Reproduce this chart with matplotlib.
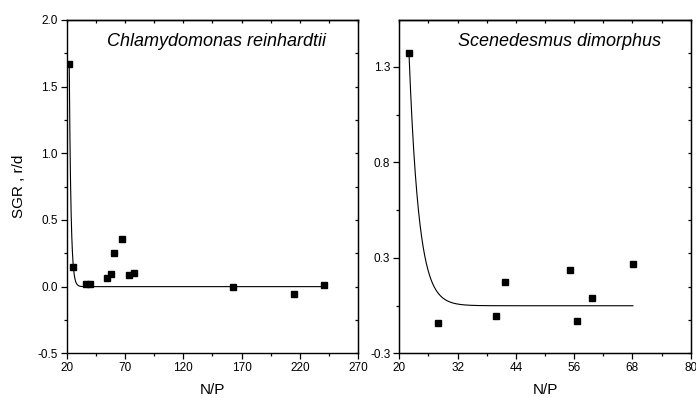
"""Specific growth rate vs N/P ratio for two microalgae, with decay fits."""

# %% Imports
import matplotlib

matplotlib.use("Agg")
import matplotlib.pyplot as plt
import numpy as np
from matplotlib.ticker import FixedLocator, MultipleLocator

plt.rcParams["font.family"] = ["Liberation Sans", "DejaVu Sans"]

# %% Data
# Chlamydomonas reinhardtii
chl_np = [22.2, 25.7, 36.5, 40.0, 54.3, 58.0, 60.5, 67.1, 73.7, 77.4, 162.8, 214.5, 240.5]
chl_sgr = [1.67, 0.15, 0.02, 0.02, 0.068, 0.095, 0.25, 0.36, 0.085, 0.10, -0.005, -0.057, 0.01]

# Scenedesmus dimorphus
sce_np = [22.0, 27.9, 39.9, 41.7, 55.2, 56.6, 59.7, 68.1]
sce_sgr = [1.371, -0.041, -0.005, 0.173, 0.236, -0.031, 0.088, 0.267]

# exponential decay fit parameters: y0 + A * exp(-(x - x0) / t)
chl_fit = {"y0": 0.0, "A": 1.67, "x0": 22.2, "t": 1.46}
sce_fit = {"y0": 0.049, "A": 1.32, "x0": 22.0, "t": 2.0}

# right panel y tick positions and their printed labels (as in the original)
sce_yticks = [-0.2, 0.3, 0.8, 1.3]
sce_ylabels = ["-0.3", "0.3", "0.8", "1.3"]


# %% Helpers
def _decay(x, y0, A, x0, t):
    return y0 + A * np.exp(-(x - x0) / t)


def _style_ticks(ax):
    ax.tick_params(axis="both", which="major", direction="out", length=4.5,
                   width=0.9, labelsize=8.5, pad=2)
    ax.tick_params(axis="both", which="minor", direction="out", length=2.3,
                   width=0.9)
    for s in ax.spines.values():
        s.set_linewidth(1.0)


def _top_ticks(ax, step, offset):
    top = ax.secondary_xaxis("top")
    top.xaxis.set_major_locator(MultipleLocator(step, offset=offset))
    top.tick_params(direction="in", length=2.3, width=0.9, labeltop=False)
    top.spines["top"].set_linewidth(1.0)


# %% Figure
fig = plt.figure(figsize=(6.96, 3.98), dpi=100)
ax1 = fig.add_axes([0.0958, 0.1123, 0.419, 0.8375])
ax2 = fig.add_axes([0.5737, 0.1123, 0.4187, 0.8375])

# left panel
xf = np.linspace(chl_np[0], chl_np[-1], 2000)
ax1.plot(xf, _decay(xf, **chl_fit), color="black", lw=0.8)
ax1.plot(chl_np, chl_sgr, "s", color="black", ms=5)
ax1.set_xlim(20, 270)
ax1.set_ylim(-0.5, 2.0)
ax1.xaxis.set_major_locator(MultipleLocator(50, offset=20))
ax1.xaxis.set_minor_locator(MultipleLocator(25, offset=20))
ax1.yaxis.set_major_locator(MultipleLocator(0.5))
ax1.yaxis.set_minor_locator(MultipleLocator(0.25))
ax1.yaxis.set_major_formatter(plt.FuncFormatter(lambda v, p: f"{v:.1f}"))
_style_ticks(ax1)
_top_ticks(ax1, 25, 20)
r1 = ax1.secondary_yaxis("right")
r1.yaxis.set_major_locator(MultipleLocator(0.25))
r1.tick_params(direction="in", length=2.3, width=0.9, labelright=False)
ax1.set_xlabel("N/P", fontsize=11, labelpad=6)
ax1.set_ylabel("SGR , r/d", fontsize=11, labelpad=8)
ax1.text(0.138, 0.962, "Chlamydomonas reinhardtii", transform=ax1.transAxes,
         fontsize=13, style="italic", ha="left", va="top")

# right panel
xf2 = np.linspace(sce_np[0], sce_np[-1], 1000)
ax2.plot(xf2, _decay(xf2, **sce_fit), color="black", lw=0.8)
ax2.plot(sce_np, sce_sgr, "s", color="black", ms=5)
ax2.set_xlim(20, 80)
ax2.set_ylim(-0.2, 1.545)
ax2.xaxis.set_major_locator(MultipleLocator(12, offset=8))
ax2.xaxis.set_minor_locator(MultipleLocator(6, offset=2))
ax2.yaxis.set_major_locator(FixedLocator(sce_yticks))
ax2.set_yticklabels(sce_ylabels)
ax2.yaxis.set_minor_locator(FixedLocator([0.05, 0.55, 1.05]))
_style_ticks(ax2)
_top_ticks(ax2, 6, 2)
# right spine carries ticks on the left panel's scale
r2 = ax2.twinx()
r2.set_ylim(-0.5, 2.0)
r2.yaxis.set_major_locator(MultipleLocator(0.25))
r2.tick_params(direction="in", length=2.3, width=0.9, labelright=False)
ax2.set_xlabel("N/P", fontsize=11, labelpad=6)
ax2.text(0.201, 0.962, "Scenedesmus dimorphus", transform=ax2.transAxes,
         fontsize=13, style="italic", ha="left", va="top")

fig.savefig("out.png", dpi=100)
